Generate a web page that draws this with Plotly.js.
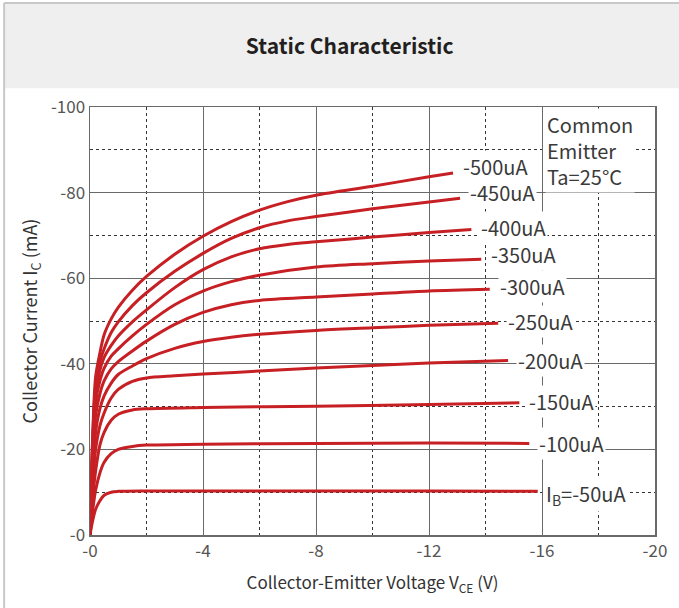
<!DOCTYPE html>
<html>
<head>
<meta charset="utf-8">
<script src="https://cdn.plot.ly/plotly-3.0.1.min.js"></script>
<style>
html,body{margin:0;padding:0;background:#fff;}
#chart{width:679px;height:608px;}
</style>
</head>
<body>
<div id="chart"></div>
<script>
// Base current labels (uA)
const baseCurrents = ["-50uA","-100uA","-150uA","-200uA","-250uA","-300uA","-350uA","-400uA","-450uA","-500uA"];

// Collector-emitter voltage (V) and collector current (mA) per base current
const vce50  = [0,-0.1,-0.2,-0.35,-0.5,-0.75,-1,-2,-4,-8,-12,-15.85];
const ic50   = [0,-3.5,-6,-8,-9.3,-10,-10.2,-10.3,-10.3,-10.3,-10.3,-10.2];

const vce100 = [0,-0.1,-0.2,-0.35,-0.5,-0.75,-1,-1.5,-2,-4,-8,-12,-15.55];
const ic100  = [0,-6,-10.5,-14.5,-17,-19,-20,-20.7,-21,-21.2,-21.4,-21.5,-21.4];

const vce150 = [0,-0.1,-0.2,-0.35,-0.5,-0.75,-1,-1.5,-2,-4,-8,-12,-15.2];
const ic150  = [0,-9,-15,-21,-24,-26.8,-28.2,-29.2,-29.5,-29.8,-30.1,-30.5,-30.9];

const vce200 = [0,-0.1,-0.2,-0.35,-0.5,-0.75,-1,-1.5,-2,-3,-4,-6,-8,-10,-12,-14.8];
const ic200  = [0,-12,-20,-25.5,-28.5,-32,-34,-35.9,-36.7,-37.2,-37.6,-38.3,-39,-39.6,-40.2,-40.8];

const vce250 = [0,-0.1,-0.2,-0.35,-0.5,-0.75,-1,-1.5,-2,-3,-4,-5,-6,-8,-10,-12,-14.45];
const ic250  = [0,-15,-24,-29.5,-32.5,-35.5,-37.5,-39.5,-41.2,-43.6,-45.2,-46.2,-46.9,-47.8,-48.4,-49,-49.5];

const vce300 = [0,-0.1,-0.2,-0.35,-0.5,-0.75,-1,-1.5,-2,-3,-4,-5,-6,-8,-10,-12,-14.15];
const ic300  = [0,-18,-28,-33,-36,-38.8,-40.5,-43,-45.3,-49.2,-52,-53.8,-54.8,-55.6,-56.3,-57,-57.4];

const vce350 = [0,-0.1,-0.2,-0.35,-0.5,-0.75,-1,-1.5,-2,-3,-4,-5,-6,-8,-10,-12,-13.85];
const ic350  = [0,-20,-31,-36,-39,-41.8,-43.5,-46.5,-49.2,-53.8,-57,-59.2,-60.7,-62.6,-63.4,-64,-64.4];

const vce400 = [0,-0.1,-0.2,-0.35,-0.5,-0.75,-1,-1.5,-2,-3,-4,-5,-6,-7,-8,-10,-12,-13.5];
const ic400  = [0,-22,-33,-38.5,-41.5,-44.3,-46.5,-49.8,-52.6,-57.8,-62,-65,-66.9,-67.9,-68.5,-69.6,-70.7,-71.4];

const vce450 = [0,-0.1,-0.2,-0.35,-0.5,-0.75,-1,-1.5,-2,-3,-4,-5,-6,-7,-8,-10,-12,-13.1];
const ic450  = [0,-23,-35,-40.5,-43.5,-47.3,-49.8,-53.6,-56.6,-61.6,-65.8,-69.3,-71.8,-73.4,-74.4,-76.2,-77.8,-78.7];

const vce500 = [0,-0.1,-0.2,-0.35,-0.5,-0.75,-1,-1.5,-2,-3,-4,-5,-6,-7,-8,-10,-12,-12.85];
const ic500  = [0,-24,-37,-42.5,-46.8,-50.5,-53.2,-57.2,-60.4,-65.6,-69.8,-73.2,-75.9,-77.9,-79.4,-81.5,-83.7,-84.6];

const xTickVals = [0,-4,-8,-12,-16,-20];
const xTickText = ["-0","-4","-8","-12","-16","-20"];
const yTickVals = [0,-20,-40,-60,-80,-100];
const yTickText = ["-0","-20","-40","-60","-80","-100"];

const seriesX = [vce50,vce100,vce150,vce200,vce250,vce300,vce350,vce400,vce450,vce500];
const seriesY = [ic50,ic100,ic150,ic200,ic250,ic300,ic350,ic400,ic450,ic500];

const FONT = '"Noto Sans CJK SC","Noto Sans",sans-serif';
const RED = '#c62025';

const traces = seriesX.map((xs, i) => ({
  x: xs, y: seriesY[i], type: 'scatter', mode: 'lines',
  line: {color: RED, width: 3, shape: 'spline', smoothing: 0.9},
  hoverinfo: 'skip', showlegend: false, name: baseCurrents[i]
}));

const yShifts = [-3, 0, 1, 0, 2, 3, 5, 2, 6, 6];
const annotations = seriesX.map((xs, i) => ({
  x: xs[xs.length-1], y: seriesY[i][seriesY[i].length-1],
  xref: 'x', yref: 'y', xanchor: 'left', yanchor: 'middle',
  text: (i === 0 ? 'I<sub>B</sub>=' : '') + baseCurrents[i],
  showarrow: false, xshift: i === 0 ? 6 : 8, yshift: yShifts[i],
  bgcolor: '#ffffff', borderpad: 1,
  font: {family: FONT, size: 20, color: '#3a3a3a'}
}));
annotations.push({
  xref: 'paper', yref: 'paper', x: 0.805, y: 0.998, xanchor: 'left', yanchor: 'top',
  align: 'left', showarrow: false, bgcolor: '#ffffff', borderpad: 1,
  text: 'Common<br>Emitter<br>Ta=25°C',
  font: {family: FONT, size: 20, color: '#3a3a3a'}
});

const layout = {
  width: 679, height: 608,
  margin: {l: 90, r: 24, t: 107, b: 73},
  paper_bgcolor: '#ffffff', plot_bgcolor: '#ffffff',
  font: {family: FONT, color: '#444'},
  title: {
    text: 'Static Characteristic',
    font: {family: FONT, size: 21, color: '#231f20', weight: 'bold'},
    xref: 'container', yref: 'container', x: 0.515, y: 0.924,
    xanchor: 'center', yanchor: 'middle'
  },
  shapes: [
    {type: 'rect', xref: 'paper', yref: 'paper', x0: -0.152, x1: 1.05, y0: 1.044, y1: 1.243,
     fillcolor: '#efefef', line: {width: 0}, layer: 'below'},
    {type: 'line', xref: 'paper', yref: 'paper', x0: -0.152, x1: 1.05, y0: 1.243, y1: 1.243,
     line: {color: '#c8c8c8', width: 2}},
    {type: 'line', xref: 'paper', yref: 'paper', x0: -0.152, x1: -0.152, y0: -0.2, y1: 1.243,
     line: {color: '#c8c8c8', width: 2}}
  ],
  xaxis: {
    range: [0, -20], tickvals: xTickVals, ticktext: xTickText,
    showgrid: true, gridcolor: '#6a6a6a', gridwidth: 1,
    minor: {dtick: 2, tick0: 0, showgrid: true, gridcolor: '#333', griddash: '3px,3px', gridwidth: 1},
    showline: true, linecolor: '#6a6a6a', linewidth: 1.5, mirror: true,
    zeroline: false, ticks: '', tickfont: {family: FONT, size: 17, color: '#555'},
    title: {text: 'Collector-Emitter Voltage V<sub>CE</sub> (V)', standoff: 16,
            font: {family: FONT, size: 17, color: '#333'}},
    fixedrange: true
  },
  yaxis: {
    range: [0, -100], tickvals: yTickVals, ticktext: yTickText,
    showgrid: true, gridcolor: '#6a6a6a', gridwidth: 1,
    minor: {dtick: 10, tick0: 0, showgrid: true, gridcolor: '#333', griddash: '3px,3px', gridwidth: 1},
    showline: true, linecolor: '#6a6a6a', linewidth: 1.5, mirror: true,
    zeroline: false, ticks: '', tickfont: {family: FONT, size: 17, color: '#555'},
    title: {text: 'Collector Current I<sub>C</sub> (mA)', standoff: 8,
            font: {family: FONT, size: 18, color: '#333'}},
    fixedrange: true
  },
  annotations: annotations
};

Plotly.newPlot('chart', traces, layout, {displayModeBar: false, staticPlot: true});
</script>
</body>
</html>
